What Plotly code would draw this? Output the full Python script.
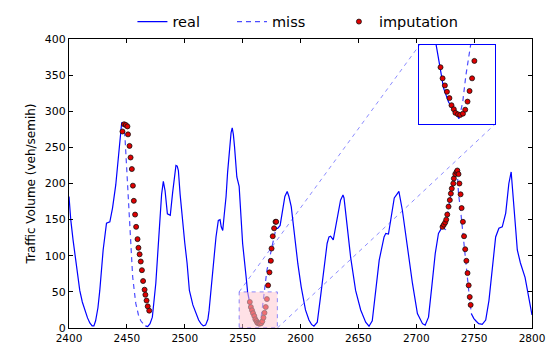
import plotly.graph_objects as go

# ---------------- data ----------------
# observed ("real") series, four segments separated by the missing gaps
real_seg1_x = [2400, 2401.5, 2403.5, 2406.4, 2409.3, 2411.5, 2413.6, 2416, 2418, 2420, 2421.5, 2423, 2425,
               2426.6, 2429.5, 2432.4, 2435.3, 2437.6, 2440.4, 2442, 2443.3, 2444.5, 2445.5, 2447]
real_seg1_y = [182, 150, 122, 85, 52, 36, 24, 14, 7, 3, 3, 10, 28,
               52, 108, 145, 147, 166, 198, 225, 250, 275, 284, 284]

real_seg2_x = [2466, 2468, 2470, 2472, 2475, 2478, 2480, 2481.5, 2483, 2485, 2487.5, 2489.5, 2491, 2492.4,
               2493.5, 2494.5, 2496, 2498, 2500, 2502, 2504, 2507, 2509.7, 2512, 2514, 2516, 2518, 2520,
               2521, 2524, 2527, 2529, 2530.5, 2531.5, 2532.8, 2534, 2535.7, 2537, 2538.5, 2540, 2541,
               2542, 2543, 2545, 2547, 2548.5, 2550, 2553, 2554.3, 2556.1, 2557.5, 2559.7, 2561.9,
               2563.4, 2564.3]
real_seg2_y = [3, 2, 6, 15, 62, 140, 185, 203, 190, 158, 156, 187, 210, 225,
               224, 218, 185, 149, 118, 90, 52, 32, 20, 11, 6, 3, 4, 12,
               24, 80, 126, 149, 150, 140, 135, 155, 182, 215, 246, 270, 277,
               268, 251, 209, 196, 160, 117, 71, 50, 35, 23, 14, 9,
               6, 3.5]

real_seg3_x = [2578.5, 2580.3, 2582.4, 2584.8, 2586.5, 2588.5, 2590, 2592, 2594.8, 2597.7, 2600.6, 2604.3,
               2607.3, 2609.5, 2611.6, 2614.5, 2617.3, 2620.3, 2623, 2624.6, 2626, 2628.3, 2630.3, 2633.2,
               2634.6, 2636.7, 2637.6, 2640.4, 2643.3, 2647.6, 2652, 2656.3, 2659.2, 2662, 2665, 2668,
               2672.2, 2673.7, 2676, 2678, 2681, 2683.7, 2685, 2688, 2692.4, 2696.7, 2701, 2705.4,
               2707.7, 2710.6, 2713.4, 2716.4, 2719.2, 2720.7, 2722.5]
real_seg3_y = [138, 138, 142, 168, 182, 189, 182, 168, 126, 89, 57, 25,
               11, 5, 2.5, 8, 43, 80, 117, 126, 127, 122, 138, 163,
               177, 184, 180, 140, 98, 52, 25, 8, 2.5, 10, 52, 94,
               126, 131, 130, 149, 180, 186, 189, 163, 108, 62, 20, 6,
               4, 15, 57, 103, 131, 135, 140]

real_seg4_x = [2747.5, 2749.8, 2752, 2754, 2757, 2760, 2762.8, 2765.7, 2768.6, 2771.4, 2774.3, 2777.3,
               2780, 2782, 2784, 2786, 2787.3, 2790, 2794, 2797, 2800]
real_seg4_y = [20, 13, 9, 6, 5, 11, 38, 85, 126, 138, 140, 159,
               200, 216, 180, 135, 108, 90, 70, 45, 18]

# true values inside the missing gaps ("miss")
miss_gap1_x = [2446, 2447.5, 2448.5, 2449, 2450.5, 2452, 2453.4, 2455, 2456.5, 2457.7, 2460, 2462, 2465, 2466.5]
miss_gap1_y = [284, 280, 260, 246, 191, 149, 108, 71, 50, 34, 18, 10, 4, 3]
miss_gap2_x = [2564.3, 2565.9, 2567.3, 2568.2, 2569.4, 2571, 2573, 2575.2, 2577, 2579]
miss_gap2_y = [3.5, 14, 31, 48, 59, 80, 95, 110, 128, 139]
miss_gap3_x = [2722.5, 2724, 2725.3, 2727, 2729, 2731, 2733, 2734.8, 2735.5, 2736.5, 2738.5, 2740.3,
               2742, 2743.7, 2745.2, 2746.7, 2748]
miss_gap3_y = [140, 138, 136, 158, 178, 195, 207, 217, 214, 186, 160, 132,
               105, 80, 52, 30, 20]

# imputed values
imp_gap1_x = [2446.2, 2447.6, 2449.1, 2450.5, 2451, 2452.3, 2453.2, 2454.3, 2455.2, 2456, 2457.1, 2458,
              2459.2, 2460, 2461, 2462, 2463, 2464, 2465.3, 2466, 2467, 2468, 2469.3]
imp_gap1_y = [272, 282, 281, 279, 268, 252, 236, 220, 197, 176, 157, 140,
              123, 111, 102, 92, 80, 65, 53, 46, 38, 30, 24]
imp_gap2_x = [2556.2, 2557.1, 2558.1, 2559, 2560.1, 2561, 2562, 2562.7, 2563.8, 2564.8, 2566, 2567,
              2568, 2568.9, 2570, 2571, 2572, 2573.2, 2574.4, 2575, 2576, 2577.2, 2578.4, 2579]
imp_gap2_y = [36, 29, 24.5, 20.5, 16.5, 12, 9.5, 7.2, 6.3, 5.9, 6.7, 9.2,
              14.3, 21, 29, 40, 59, 77, 93, 110, 127, 138, 147, 147]
imp_gap3_x = [2722.7, 2723.8, 2725, 2725.9, 2726.8, 2727.9, 2729, 2729.9, 2730.7, 2732, 2732.5, 2733.7,
              2734.8, 2735.5, 2736.5, 2737.3, 2738.3, 2739.2, 2740.3, 2741.3, 2742.3, 2743.3, 2744.3,
              2745.3, 2746.2, 2747]
imp_gap3_y = [140, 143, 146, 150, 157, 168, 177, 186, 193, 200, 207, 213,
              216, 218, 213, 200, 185, 166, 147, 127, 109, 93, 76,
              59, 43, 32]

x_ticks = [2400, 2450, 2500, 2550, 2600, 2650, 2700, 2750, 2800]
y_ticks = [0, 50, 100, 150, 200, 250, 300, 350, 400]
x_range = [2400, 2800]
y_range = [0, 400]
zoom_x = [2547, 2580]     # region magnified in the inset
zoom_y = [0, 50]
inset_dom_x = [0.757, 0.920]
inset_dom_y = [0.705, 0.979]
legend_x = [0.137, 0.352, 0.583]   # left edge of each legend entry (paper fraction)


def join(*segs):
    out = []
    for i, s in enumerate(segs):
        if i:
            out.append(None)
        out.extend(s)
    return out


real_x = join(real_seg1_x, real_seg2_x, real_seg3_x, real_seg4_x)
real_y = join(real_seg1_y, real_seg2_y, real_seg3_y, real_seg4_y)
miss_x = join(miss_gap1_x, miss_gap2_x, miss_gap3_x)
miss_y = join(miss_gap1_y, miss_gap2_y, miss_gap3_y)
imp_x = imp_gap1_x + imp_gap2_x + imp_gap3_x
imp_y = imp_gap1_y + imp_gap2_y + imp_gap3_y

BLUE = "#0000ff"
DASH_BLUE = "rgba(0,0,255,0.7)"
FONT = "DejaVu Sans"

fig = go.Figure()
for axes, show in (("main", True), ("inset", False)):
    xa, ya = ("x", "y") if axes == "main" else ("x2", "y2")
    fig.add_trace(go.Scatter(x=real_x, y=real_y, mode="lines", name="real", xaxis=xa, yaxis=ya,
                             line=dict(color=BLUE, width=1.2), showlegend=show, connectgaps=False,
                             legend="legend"))
    fig.add_trace(go.Scatter(x=miss_x, y=miss_y, mode="lines", name="miss", xaxis=xa, yaxis=ya,
                             line=dict(color=DASH_BLUE, width=1.2, dash="5px,4px"), showlegend=show,
                             connectgaps=False, legend="legend2"))
    fig.add_trace(go.Scatter(x=imp_x, y=imp_y, mode="markers", name="imputation", xaxis=xa, yaxis=ya,
                             marker=dict(color="#e00000", size=5, line=dict(color="#111111", width=0.8)),
                             showlegend=show, legend="legend3"))

# zoom box + connectors (computed from the zoom region and inset domain)
def to_data(frac, rng):
    return rng[0] + frac * (rng[1] - rng[0])

ix0, ix1 = to_data(inset_dom_x[0], x_range), to_data(inset_dom_x[1], x_range)
iy0, iy1 = to_data(inset_dom_y[0], y_range), to_data(inset_dom_y[1], y_range)
conn = dict(color="rgba(0,0,255,0.45)", width=1, dash="4px,4px")
fig.add_shape(type="rect", xref="x", yref="y", x0=zoom_x[0], x1=zoom_x[1], y0=zoom_y[0], y1=zoom_y[1],
              fillcolor="rgba(255,200,210,0.55)", line=conn, layer="above")
fig.add_shape(type="line", xref="x", yref="y", x0=zoom_x[0], y0=zoom_y[1], x1=ix0, y1=iy1, line=conn)
fig.add_shape(type="line", xref="x", yref="y", x0=zoom_x[1], y0=zoom_y[0], x1=ix1, y1=iy0, line=conn)

axis_common = dict(showgrid=False, zeroline=False, showline=True, linecolor="black", linewidth=1,
                   mirror="ticks", ticks="inside", ticklen=4, tickwidth=1, tickcolor="black")
leg_common = dict(orientation="h", xanchor="left", y=1.06, yanchor="middle",
                  font=dict(size=14.5), bgcolor="rgba(0,0,0,0)")
fig.update_layout(
    width=558, height=352,
    margin=dict(l=69, r=26, t=39, b=24, autoexpand=False),
    paper_bgcolor="white", plot_bgcolor="white",
    font=dict(family=FONT, color="black"),
    xaxis=dict(range=x_range, tickvals=x_ticks, tickfont=dict(size=10.5), **axis_common),
    yaxis=dict(range=y_range, tickvals=y_ticks, tickfont=dict(size=11),
               title=dict(text="Traffic Volume (veh/semih)", font=dict(size=12), standoff=6),
               **axis_common),
    xaxis2=dict(domain=inset_dom_x, range=zoom_x, anchor="y2", showticklabels=False, ticks="",
                showgrid=False, zeroline=False, showline=True, linecolor=BLUE, linewidth=1.2, mirror=True),
    yaxis2=dict(domain=inset_dom_y, range=zoom_y, anchor="x2", showticklabels=False, ticks="",
                showgrid=False, zeroline=False, showline=True, linecolor=BLUE, linewidth=1.2, mirror=True),
    legend=dict(x=legend_x[0], **leg_common),
    legend2=dict(x=legend_x[1], **leg_common),
    legend3=dict(x=legend_x[2], **leg_common),
    showlegend=True,
)

fig.write_html("out.html")
